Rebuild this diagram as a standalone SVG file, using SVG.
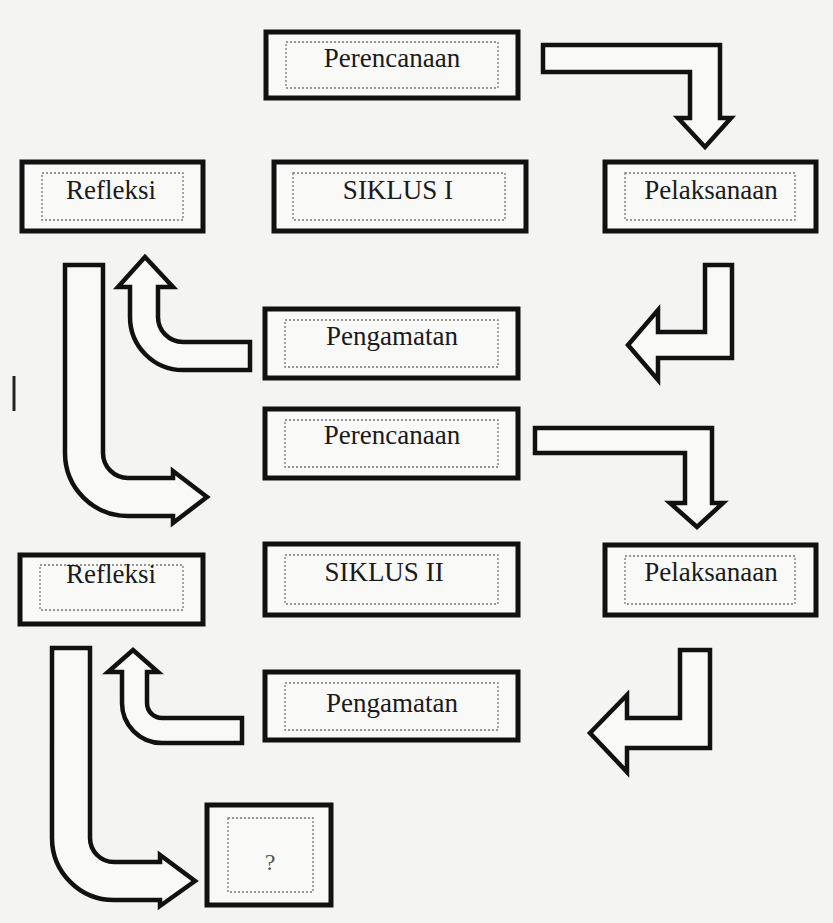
<svg xmlns="http://www.w3.org/2000/svg" width="833" height="923" viewBox="0 0 833 923">
<style>
.box{fill:#f9f9f8;stroke:#111;stroke-width:5}
.inner{fill:none;stroke:#777;stroke-width:1.3;stroke-dasharray:2 2}
.lbl{font-family:'Liberation Serif','DejaVu Serif','Times New Roman',serif;font-size:27px;fill:#1a1a1a;text-anchor:middle}
.arr{fill:#f9f9f8;stroke:#111;stroke-width:4.5;stroke-linejoin:miter}
</style>
<rect x="0" y="0" width="833" height="923" fill="#f4f4f2"/>
<g id="perencanaan1"><rect class="box" x="266" y="32" width="252" height="66"/><rect class="inner" x="286" y="42" width="212" height="46"/><text class="lbl" x="392" y="67">Perencanaan</text></g>
<g id="refleksi1"><rect class="box" x="22" y="162" width="181" height="69"/><rect class="inner" x="42" y="173" width="141" height="47"/><text class="lbl" x="111" y="199">Refleksi</text></g>
<g id="siklus1"><rect class="box" x="274" y="162" width="252" height="69"/><rect class="inner" x="293" y="173" width="212" height="47"/><text class="lbl" x="398" y="199">SIKLUS I</text></g>
<g id="pelaksanaan1"><rect class="box" x="605" y="162" width="211" height="69"/><rect class="inner" x="625" y="173" width="170" height="47"/><text class="lbl" x="711" y="199">Pelaksanaan</text></g>
<g id="pengamatan1"><rect class="box" x="265" y="309" width="253" height="69"/><rect class="inner" x="285" y="320" width="213" height="47"/><text class="lbl" x="392" y="345">Pengamatan</text></g>
<g id="perencanaan2"><rect class="box" x="265" y="409" width="253" height="69"/><rect class="inner" x="285" y="420" width="213" height="47"/><text class="lbl" x="392" y="444">Perencanaan</text></g>
<g id="refleksi2"><rect class="box" x="20" y="555" width="183" height="69"/><rect class="inner" x="40" y="565" width="143" height="45"/><text class="lbl" x="111" y="583">Refleksi</text></g>
<g id="siklus2"><rect class="box" x="265" y="544" width="253" height="71"/><rect class="inner" x="285" y="555" width="213" height="49"/><text class="lbl" x="384" y="581">SIKLUS II</text></g>
<g id="pelaksanaan2"><rect class="box" x="605" y="545" width="211" height="70"/><rect class="inner" x="625" y="556" width="170" height="48"/><text class="lbl" x="711" y="581">Pelaksanaan</text></g>
<g id="pengamatan2"><rect class="box" x="265" y="672" width="253" height="68"/><rect class="inner" x="285" y="683" width="213" height="47"/><text class="lbl" x="392" y="712">Pengamatan</text></g>
<g id="unknown"><rect class="box" x="207" y="805" width="124" height="100"/><rect class="inner" x="228" y="818" width="85" height="74"/><text class="lbl" x="270" y="870" style="font-size:24px;fill:#555">?</text></g>
<g id="connectors">
<path class="arr" d="M543 45 L720 45 L720 118 L731 118 L705 147 L678 118 L690 118 L690 72 L543 72 Z"/>
<path class="arr" d="M705 265 L732 265 L732 358 L658 358 L658 380 L628 345 L658 310 L658 332 L705 332 Z"/>
<path class="arr" d="M250 342 L183 342 A25 25 0 0 1 158 317 L158 287 L173 287 L145 257 L118 287 L130 287 L130 317 A53 53 0 0 0 183 370 L250 370 Z"/>
<path class="arr" d="M65 265 L103 265 L103 453 A25 25 0 0 0 128 478 L173 478 L173 471 L207 497 L173 523 L173 516 L128 516 A63 63 0 0 1 65 453 Z"/>
<path class="arr" d="M535 428 L712 428 L712 503 L723 503 L697 527 L670 503 L685 503 L685 453 L535 453 Z"/>
<path class="arr" d="M680 650 L710 650 L710 748 L627 748 L627 772 L590 733 L627 695 L627 718 L680 718 Z"/>
<path class="arr" d="M242 718 L162 718 A15 15 0 0 1 147 703 L147 672 L158 672 L133 650 L108 672 L122 672 L122 703 A40 40 0 0 0 162 743 L242 743 Z"/>
<path class="arr" d="M52 648 L90 648 L90 838 A24 24 0 0 0 114 862 L160 862 L160 855 L195 881 L160 906 L160 900 L114 900 A62 62 0 0 1 52 838 Z"/>
</g>
<line x1="14" y1="376" x2="14" y2="411" stroke="#222" stroke-width="3"/>
</svg>
